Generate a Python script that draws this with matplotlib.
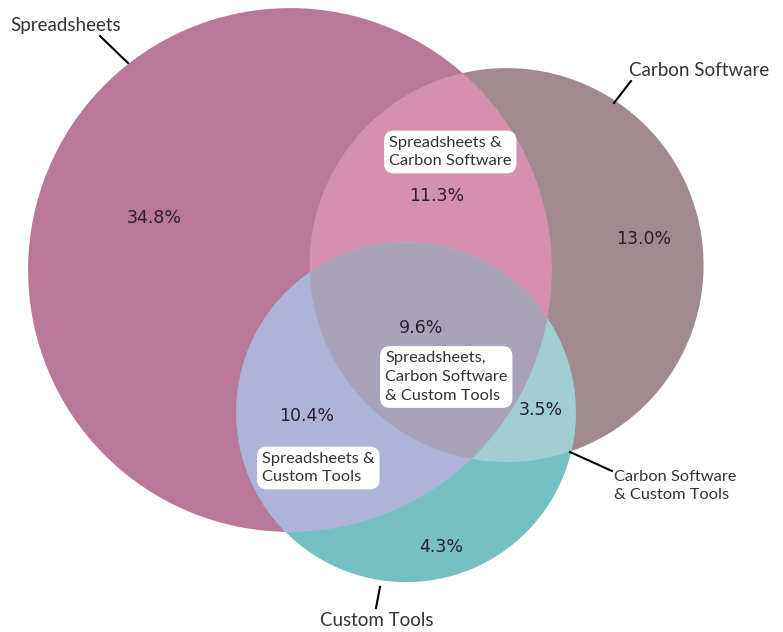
import numpy as np
import matplotlib
matplotlib.use("Agg")
import matplotlib.pyplot as plt
from matplotlib.patches import Circle, Polygon

# subset shares (%), order: A only, B only, AB, C only, AC, BC, ABC
sets = ["Spreadsheets", "Carbon Software", "Custom Tools"]
subset_keys = ["100", "010", "110", "001", "101", "011", "111"]
subset_vals = [34.8, 13.0, 11.3, 4.3, 10.4, 3.5, 9.6]
region_colors = ["#b97898", "#a08a8f", "#d590ae", "#74c0c3", "#adb4d8", "#a0cdd1", "#a8a3b8"]

sizes = dict(zip(subset_keys, subset_vals))
area_A = sizes["100"] + sizes["110"] + sizes["101"] + sizes["111"]
area_B = sizes["010"] + sizes["110"] + sizes["011"] + sizes["111"]
area_C = sizes["001"] + sizes["101"] + sizes["011"] + sizes["111"]
ov_AB = sizes["110"] + sizes["111"]
ov_AC = sizes["101"] + sizes["111"]
ov_BC = sizes["011"] + sizes["111"]


def lens_area(r1, r2, d):
    if d >= r1 + r2:
        return 0.0
    if d <= abs(r1 - r2):
        return np.pi * min(r1, r2) ** 2
    a1 = r1 ** 2 * np.arccos((d ** 2 + r1 ** 2 - r2 ** 2) / (2 * d * r1))
    a2 = r2 ** 2 * np.arccos((d ** 2 + r2 ** 2 - r1 ** 2) / (2 * d * r2))
    k = 0.5 * np.sqrt((-d + r1 + r2) * (d + r1 - r2) * (d - r1 + r2) * (d + r1 + r2))
    return a1 + a2 - k


def dist_for_overlap(r1, r2, target):
    lo, hi = abs(r1 - r2), r1 + r2
    for _ in range(80):
        mid = 0.5 * (lo + hi)
        if lens_area(r1, r2, mid) > target:
            lo = mid
        else:
            hi = mid
    return 0.5 * (lo + hi)


# radii from set sizes (area proportional), pixel scale
scale = 57.1
rA, rB, rC = [np.sqrt(a / np.pi) for a in (area_A, area_B, area_C)]
dAB = dist_for_overlap(rA, rB, ov_AB)
dAC = dist_for_overlap(rA, rC, ov_AC)
dBC = dist_for_overlap(rB, rC, ov_BC)

# place centres (image coords, y down)
cA = np.array([290.0, 270.0])
rot = np.deg2rad(-1.3)
ux = np.array([np.cos(rot), np.sin(rot)])
uy = np.array([-np.sin(rot), np.cos(rot)])
cB = cA + scale * dAB * ux
px = (dAC ** 2 - dBC ** 2 + dAB ** 2) / (2 * dAB)
py = np.sqrt(max(dAC ** 2 - px ** 2, 0))
cC = cA + scale * (px * ux + py * uy)
RA, RB, RC = scale * rA, scale * rB, scale * rC

fig = plt.figure(figsize=(7.83, 6.32), dpi=100)
ax = fig.add_axes([0, 0, 1, 1])
ax.set_xlim(0, 783)
ax.set_ylim(632, 0)
ax.set_aspect("equal")
ax.axis("off")

col = dict(zip(subset_keys, region_colors))
circA = Circle(cA, RA, fc=col["100"], ec="none", zorder=1)
circB = Circle(cB, RB, fc=col["010"], ec="none", zorder=1)
circC = Circle(cC, RC, fc=col["001"], ec="none", zorder=1)
for c in (circA, circB, circC):
    ax.add_patch(c)

pAB = ax.add_patch(Circle(cB, RB, fc=col["110"], ec="none", zorder=2))
pAB.set_clip_path(circA)
pAC = ax.add_patch(Circle(cC, RC, fc=col["101"], ec="none", zorder=2))
pAC.set_clip_path(circA)
pBC = ax.add_patch(Circle(cC, RC, fc=col["011"], ec="none", zorder=2))
pBC.set_clip_path(circB)

# lens of B and C, clipped to A -> triple overlap
t = np.linspace(0, 2 * np.pi, 1440, endpoint=False)
ptsB = cB + RB * np.c_[np.cos(t), np.sin(t)]
ptsC = cC + RC * np.c_[np.cos(t), np.sin(t)]
lens = np.vstack([ptsB[np.hypot(*(ptsB - cC).T) <= RC],
                  ptsC[np.hypot(*(ptsC - cB).T) <= RB]])
m = lens.mean(axis=0)
lens = lens[np.argsort(np.arctan2(lens[:, 1] - m[1], lens[:, 0] - m[0]))]
pABC = ax.add_patch(Polygon(lens, closed=True, fc=col["111"], ec="none", zorder=3))
pABC.set_clip_path(circA)

# percentage labels
pct_pos = {"100": (154, 218), "010": (644, 239), "110": (437, 196), "001": (441, 547),
           "101": (307, 416), "011": (541, 410), "111": (421, 328)}
for k in subset_keys:
    x, y = pct_pos[k]
    ax.text(x, y, f"{sizes[k]:.1f}%", ha="center", va="center", fontsize=12.5,
            color="#2a1f2d", family="DejaVu Sans", zorder=5)

label_font = dict(family=["Lato", "DejaVu Sans"], color="#333333")

# boxed overlap labels
boxes = [("Spreadsheets &\nCarbon Software", 389, 152),
         ("Spreadsheets,\nCarbon Software\n& Custom Tools", 385, 377),
         ("Spreadsheets &\nCustom Tools", 262, 468)]
for txt, x, y in boxes:
    ax.text(x, y, txt, ha="left", va="center", fontsize=11.8, linespacing=1.45,
            zorder=6, bbox=dict(boxstyle="round,pad=0.3,rounding_size=0.6",
                                fc="white", ec="none"), **label_font)

# outer labels with leader lines
outer = [("Spreadsheets", (10, 25), "left", 13.5, (100, 36), (128, 63)),
         ("Carbon Software", (629, 70), "left", 13.5, (631, 81), (614, 103)),
         ("Carbon Software\n& Custom Tools", (614, 486), "left", 11.8, (612, 471), (570, 452)),
         ("Custom Tools", (377, 620), "center", 13.5, (376, 608), (380, 587))]
for txt, (x, y), ha, fs, p0, p1 in outer:
    ax.text(x, y, txt, ha=ha, va="center", fontsize=fs, linespacing=1.45,
            zorder=6, **label_font)
    ax.plot([p0[0], p1[0]], [p0[1], p1[1]], color="black", lw=1.5, zorder=6)

fig.savefig("out.png", dpi=100, facecolor="white")
